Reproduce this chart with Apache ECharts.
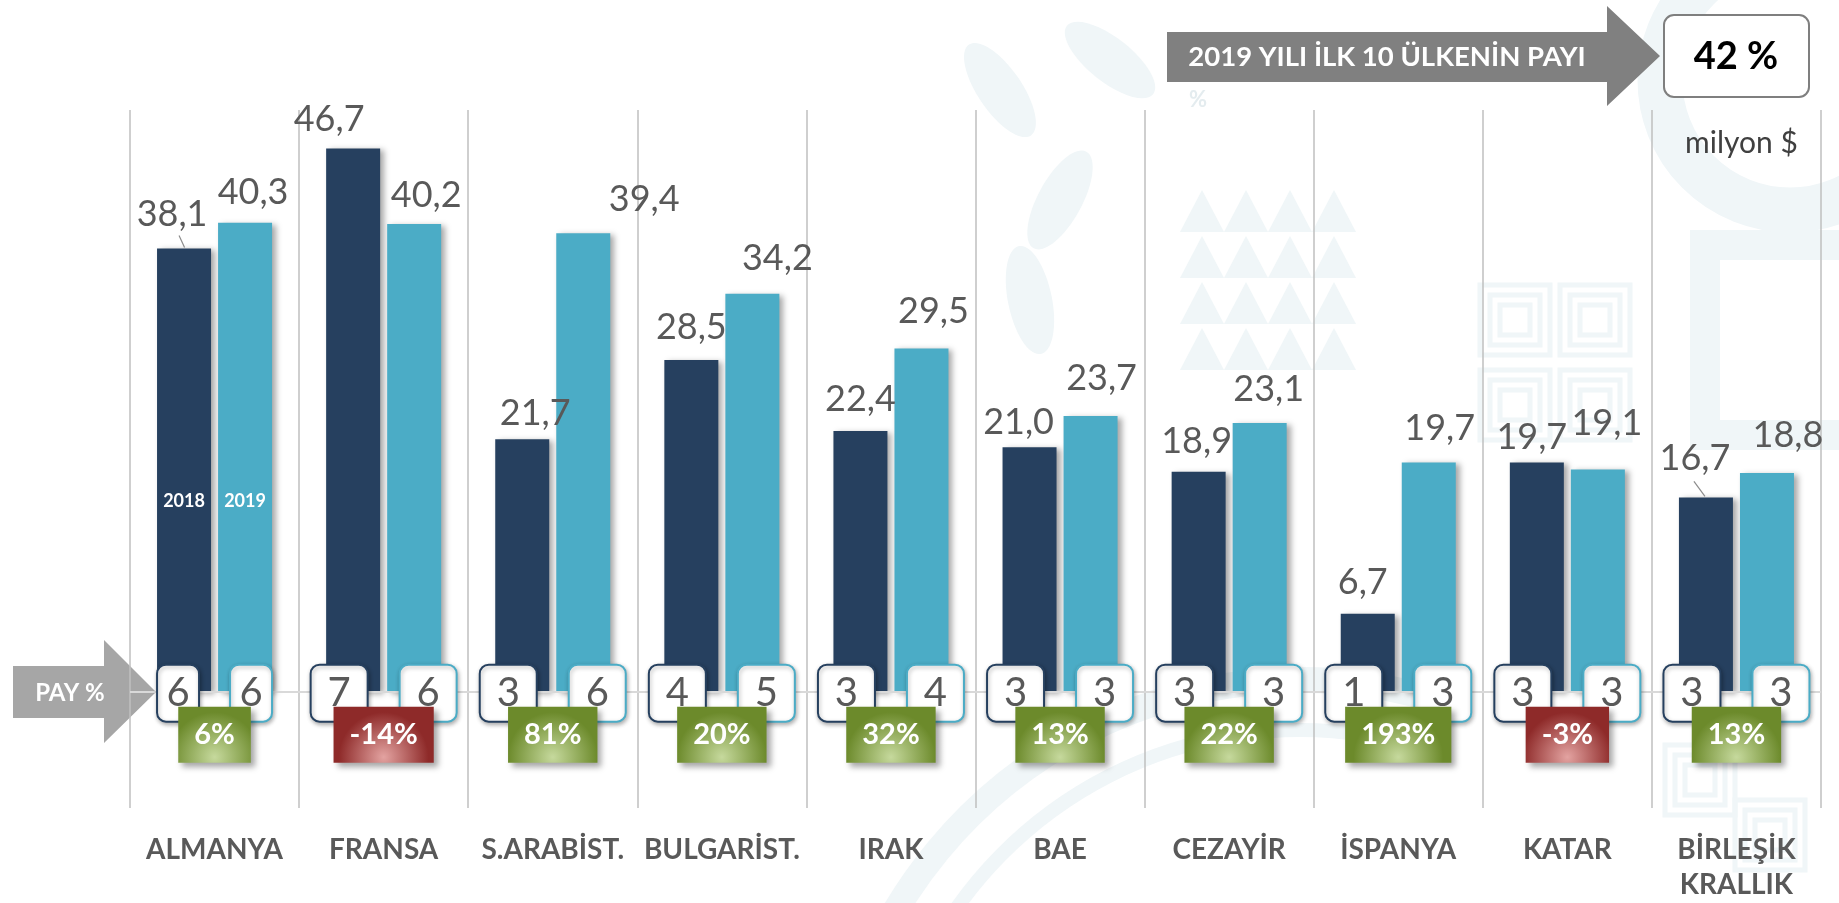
<!DOCTYPE html>
<html>
<head>
<meta charset="utf-8">
<script src="https://cdn.jsdelivr.net/npm/echarts@6/dist/echarts.min.js"></script>
<style>
  html, body { margin: 0; padding: 0; background: #fff; }
  #main { width: 1839px; height: 903px; }
</style>
</head>
<body>
<div id="main"></div>
<script>
// data (milyon $)
const countries = ['ALMANYA', 'FRANSA', 'S.ARABİST.', 'BULGARİST.', 'IRAK', 'BAE', 'CEZAYİR', 'İSPANYA', 'KATAR', 'BİRLEŞİK\nKRALLIK'];
const years = ['2018', '2019'];
const exports2018 = [38.1, 46.7, 21.7, 28.5, 22.4, 21.0, 18.9, 6.7, 19.7, 16.7];
const exports2019 = [40.3, 40.2, 39.4, 34.2, 29.5, 23.7, 23.1, 19.7, 19.1, 18.8];
const share2018 = [6, 7, 3, 4, 3, 3, 3, 1, 3, 3];
const share2019 = [6, 6, 6, 5, 4, 3, 3, 3, 3, 3];
const changePct = [6, -14, 81, 20, 32, 13, 22, 193, -3, 13];
const top10Share = '42 %';
const headline = '2019 YILI İLK 10 ÜLKENİN PAYI';
const shareTitle = 'PAY %';
const unitText = 'milyon $';

// label nudges (the original labels were hand placed)
const shift2018 = [[-12, -2], [-24, 3], [13, 6], [0, -1], [0, 0], [-11, 7], [-2, 2], [-5, 1], [-5, 7], [-11, -7]];
const shift2019 = [[8, 2], [12, 3], [61, -2], [25, -3], [12, -5], [11, -6], [9, -2], [11, -2], [9, -14], [21, -6]];

const navy = '#26405F';
const teal = '#4BACC6';
const textGray = '#595959';
const pale = '#F0F6F8';
const font = 'Lato, "Open Sans", sans-serif';

const chart = echarts.init(document.getElementById('main'));

function fmt(v) {
  return v.toFixed(1).replace('.', ',');
}

function barData(values, shifts) {
  return values.map((v, i) => ({
    value: v,
    label: { offset: shifts[i] }
  }));
}

function overlay(params, api) {
  const i = api.value(0);
  const p = api.coord([i, 0]);
  const cx = p[0];
  const y0 = p[1];
  const children = [];
  const bw = i === 0 ? 42 : 57;
  const off = i === 0 ? 36.5 : 44.5;
  const boxes = [
    { x: cx - off, v: api.value(1), c: navy },
    { x: cx + off, v: api.value(2), c: teal }
  ];
  boxes.forEach(b => {
    children.push({
      type: 'rect',
      shape: { x: b.x - bw / 2, y: y0 - 27, width: bw, height: 57, r: 9 },
      style: {
        fill: '#fff', stroke: b.c, lineWidth: 2,
        shadowBlur: 4, shadowOffsetX: 1, shadowOffsetY: 2, shadowColor: 'rgba(0,0,0,0.3)'
      }
    });
    children.push({
      type: 'text',
      x: b.x, y: y0 + 1,
      style: {
        text: String(b.v), fill: textGray, font: '40px ' + font,
        align: 'center', verticalAlign: 'middle'
      }
    });
  });

  const ch = api.value(3);
  const up = ch >= 0;
  children.push({
    type: 'text',
    x: cx, y: y0 + 43,
    style: {
      text: ch + '%',
      fill: '#fff',
      font: 'bold 29px ' + font,
      align: 'center', verticalAlign: 'middle',
      padding: [14, 16, 13, 16],
      backgroundColor: new echarts.graphic.RadialGradient(0.5, 0.9, 0.8, up
        ? [{ offset: 0, color: '#C6D99D' }, { offset: 1, color: '#6C8A2B' }]
        : [{ offset: 0, color: '#E3A3A1' }, { offset: 1, color: '#8E2A29' }]),
      shadowBlur: 6, shadowOffsetX: 4, shadowOffsetY: 4, shadowColor: 'rgba(0,0,0,0.35)'
    }
  });

  if (i === 0) {
    children.push({
      type: 'text', x: cx - 30.5, y: y0 - 190,
      style: { text: years[0], fill: '#fff', font: 'bold 18px ' + font, align: 'center', verticalAlign: 'middle' }
    });
    children.push({
      type: 'text', x: cx + 30.5, y: y0 - 190,
      style: { text: years[1], fill: '#fff', font: 'bold 18px ' + font, align: 'center', verticalAlign: 'middle' }
    });
  }
  // short leader lines where the label sits off the bar
  if (i === 0 || i === 9) {
    const top = api.coord([i, api.value(4)])[1];
    const bx = cx - 30.5;
    const d = i === 0 ? [-5, -13, 0.5] : [-12, -16, -1];
    children.push({
      type: 'line',
      shape: { x1: bx + d[0], y1: top + d[1], x2: bx + d[2], y2: top - 1 },
      style: { stroke: '#8c8c8c', lineWidth: 1.2 }
    });
  }
  return { type: 'group', children: children };
}

// faint ornament in the background (decoration only)
function ornament() {
  const els = [];
  // triangle band
  for (let r = 0; r < 4; r++) {
    for (let c = 0; c < 4; c++) {
      const x = 1180 + c * 44;
      const y = 190 + r * 46;
      els.push({ type: 'polygon', z: -10, silent: true,
        shape: { points: [[x, y + 42], [x + 22, y], [x + 44, y + 42]] },
        style: { fill: pale } });
    }
  }
  // maze squares
  [[1480, 285], [1560, 285], [1480, 370], [1560, 370], [1665, 745], [1735, 800]].forEach(q => {
    for (let k = 0; k < 3; k++) {
      els.push({ type: 'rect', z: -10, silent: true,
        shape: { x: q[0] + k * 10, y: q[1] + k * 10, width: 70 - k * 20, height: 70 - k * 20 },
        style: { fill: 'none', stroke: pale, lineWidth: 5 } });
    }
  });
  // thick square outline and ring on the right
  els.push({ type: 'rect', z: -10, silent: true,
    shape: { x: 1705, y: 245, width: 170, height: 190 },
    style: { fill: 'none', stroke: pale, lineWidth: 30 } });
  els.push({ type: 'circle', z: -10, silent: true,
    shape: { cx: 1790, cy: 80, r: 130 },
    style: { fill: 'none', stroke: pale, lineWidth: 45 } });
  // leaf shapes on the left of the pattern
  [[1000, 90, 0.6], [1060, 200, -0.5], [1110, 60, 0.9], [1030, 300, 0.2]].forEach(l => {
    els.push({ type: 'ellipse', z: -10, silent: true,
      shape: { cx: 0, cy: 0, rx: 22, ry: 55 },
      x: l[0], y: l[1], rotation: l[2],
      style: { fill: pale } });
  });
  // sweeping arcs at the bottom
  els.push({ type: 'arc', z: -10, silent: true,
    shape: { cx: 1300, cy: 1150, r: 470, startAngle: Math.PI * 1.1, endAngle: Math.PI * 1.6 },
    style: { fill: 'none', stroke: pale, lineWidth: 26 } });
  els.push({ type: 'arc', z: -10, silent: true,
    shape: { cx: 1300, cy: 1150, r: 420, startAngle: Math.PI * 1.15, endAngle: Math.PI * 1.55 },
    style: { fill: 'none', stroke: pale, lineWidth: 14 } });
  return els;
}

const option = {
  backgroundColor: '#fff',
  animation: false,
  grid: { left: 130, right: 18, top: 110, bottom: 95 },
  xAxis: {
    type: 'category',
    data: countries,
    axisLine: { show: false },
    axisTick: { show: false },
    splitLine: { show: true, interval: 0, lineStyle: { color: '#BFBFBF', width: 1.5 } },
    axisLabel: {
      interval: 0,
      margin: 24,
      color: textGray,
      fontFamily: font,
      fontWeight: 'bold',
      fontSize: 28,
      lineHeight: 35,
      verticalAlign: 'top'
    }
  },
  yAxis: {
    type: 'value',
    min: -10,
    max: 50,
    show: false
  },
  series: [
    {
      name: years[0],
      type: 'bar',
      barWidth: 54,
      barGap: '13%',
      data: barData(exports2018, shift2018),
      itemStyle: {
        color: navy,
        shadowBlur: 6, shadowOffsetX: 4, shadowOffsetY: 2, shadowColor: 'rgba(0,0,0,0.35)'
      },
      label: {
        show: true, position: 'top', distance: 14,
        color: textGray, fontFamily: font, fontSize: 36,
        formatter: p => fmt(p.value)
      },
      markLine: {
        silent: true,
        symbol: 'none',
        label: { show: false },
        lineStyle: { color: '#D9D9D9', width: 2, type: 'solid' },
        data: [{ yAxis: 0 }]
      }
    },
    {
      name: years[1],
      type: 'bar',
      barWidth: 54,
      barGap: '13%',
      data: barData(exports2019, shift2019),
      itemStyle: {
        color: teal,
        shadowBlur: 6, shadowOffsetX: 4, shadowOffsetY: 2, shadowColor: 'rgba(0,0,0,0.35)'
      },
      label: {
        show: true, position: 'top', distance: 14,
        color: textGray, fontFamily: font, fontSize: 36,
        formatter: p => fmt(p.value)
      }
    },
    {
      type: 'custom',
      z: 5,
      clip: false,
      renderItem: overlay,
      encode: { x: 0, y: 4 },
      data: countries.map((c, i) => [i, share2018[i], share2019[i], changePct[i], exports2018[i]])
    }
  ],
  graphic: ornament().concat([
    {
      type: 'polygon',
      shape: { points: [[1167, 32], [1607, 32], [1607, 6], [1660, 56], [1607, 106], [1607, 82], [1167, 82]] },
      style: { fill: '#808080' }
    },
    {
      type: 'text', x: 1387, y: 57,
      style: { text: headline, fill: '#fff', font: 'bold 27.5px ' + font, align: 'center', verticalAlign: 'middle' }
    },
    {
      type: 'text', x: 1198, y: 100,
      style: { text: '%', fill: '#E4ECEF', font: 'bold 22px ' + font, align: 'center', verticalAlign: 'middle' }
    },
    {
      type: 'rect',
      shape: { x: 1664, y: 15, width: 145, height: 82, r: 10 },
      style: { fill: '#fff', stroke: '#7F7F7F', lineWidth: 2 }
    },
    {
      type: 'text', x: 1736, y: 57,
      style: { text: top10Share, fill: '#000', font: 'bold 38px ' + font, align: 'center', verticalAlign: 'middle' }
    },
    {
      type: 'text', x: 1685, y: 143,
      style: { text: unitText, fill: '#404040', font: '30px ' + font, verticalAlign: 'middle' }
    },
    {
      type: 'polygon',
      shape: { points: [[13, 666], [104, 666], [104, 640], [156, 692], [104, 743], [104, 718], [13, 718]] },
      style: { fill: '#A6A6A6' }
    },
    {
      type: 'text', x: 70, y: 693,
      style: { text: shareTitle, fill: '#fff', font: 'bold 24px ' + font, align: 'center', verticalAlign: 'middle' }
    }
  ])
};

chart.setOption(option);
</script>
</body>
</html>
